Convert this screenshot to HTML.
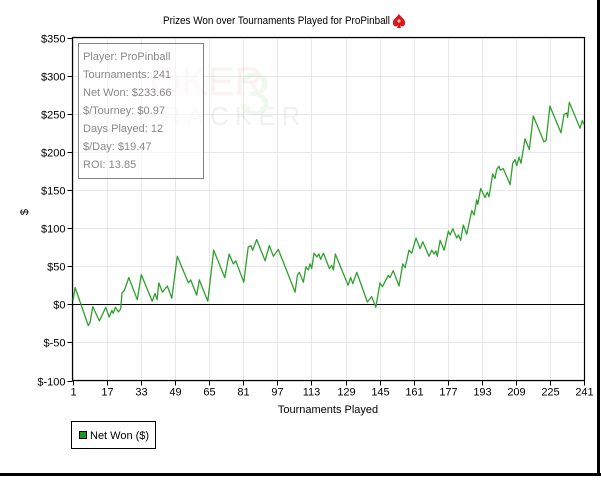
<!DOCTYPE html>
<html><head><meta charset="utf-8"><style>
body{margin:0;background:#fff;width:601px;height:476px;overflow:hidden;font-family:"Liberation Sans",Tahoma,sans-serif;}
svg text{font-family:"Liberation Sans",Tahoma,sans-serif;}
</style></head><body>
<svg id="chart" width="601" height="476" xmlns="http://www.w3.org/2000/svg">
<rect x="0" y="0" width="601" height="476" fill="#fff"/>
<text x="163" y="24" font-size="11" textLength="227" lengthAdjust="spacingAndGlyphs" fill="#000">Prizes Won over Tournaments Played for ProPinball</text>
<g transform="translate(399,21)">
<path d="M0,-7 C3,-3 7,-1 6,3 C5,6 2,6 1,4 L2,7 L-2,7 L-1,4 C-2,6 -5,6 -6,3 C-7,-1 -3,-3 0,-7 Z" fill="#d81818"/>
<circle cx="0" cy="0" r="1.6" fill="#fbb"/>
</g>
<g id="grid"></g>
<g opacity="0.07">
<text x="150" y="95" font-size="40" font-family="Liberation Serif,serif" fill="#c44">OKER</text>
<text x="162" y="125" font-size="26" font-family="Liberation Serif,serif" fill="#444" letter-spacing="6">RACKER</text>
<text x="238" y="115" font-size="60" font-family="Liberation Serif,serif" fill="#3a3">3</text>
</g>
<g id="axes"></g>
<g id="series"></g>
<g>
<rect x="78.5" y="43.5" width="125" height="135" fill="rgba(255,255,255,0.6)" stroke="#808080" stroke-width="1"/>
<g font-size="11" fill="#888">
<text x="83" y="60">Player: ProPinball</text>
<text x="83" y="78">Tournaments: 241</text>
<text x="83" y="96">Net Won: $233.66</text>
<text x="83" y="114">$/Tourney: $0.97</text>
<text x="83" y="132">Days Played: 12</text>
<text x="83" y="150">$/Day: $19.47</text>
<text x="83" y="168">ROI: 13.85</text>
</g></g>
<text x="28" y="212" font-size="11" text-anchor="middle" transform="rotate(-90 28 212)">$</text>
<text x="328" y="413" font-size="11" text-anchor="middle">Tournaments Played</text>
<g>
<rect x="71.5" y="421.5" width="84" height="27" fill="#fff" stroke="#000"/>
<rect x="79.5" y="431.5" width="7" height="7" fill="#1a9a1a" stroke="#000"/>
<text x="90" y="439" font-size="11">Net Won ($)</text>
</g>
<line x1="598.5" y1="0" x2="598.5" y2="475" stroke="#000" stroke-width="3"/>
<line x1="0" y1="474.5" x2="601" y2="474.5" stroke="#000" stroke-width="3"/>
</svg>
<script>
const xTicks=[1,17,33,49,65,81,97,113,129,145,161,177,193,209,225,241];
const yTicks=[-100,-50,0,50,100,150,200,250,300,350];
const yLabels=["$-100","$-50","$0","$50","$100","$150","$200","$250","$300","$350"];
const tourney=[1,2,8.2,9,10.3,13.4,16.4,18,19.2,19.9,20.9,22.3,23.4,24,25.1,27.2,31.2,33.1,38.2,39.5,40.5,41.3,43,45.3,47.4,50,55.2,56.3,59.1,60.3,64.3,67.1,72.3,74.3,76.3,77.4,81.2,83.3,84.5,85.4,87.3,91.2,93.2,95.1,97.4,105.3,106.4,107.3,109.2,110.4,111.5,112.3,113.1,114.2,115.5,116.5,117.3,118.6,121.4,122.5,123.3,124.2,130.2,131.4,132.4,134.3,139.2,141.3,143.2,145.2,146.3,149.1,149.9,151.4,154.1,155.9,157,158.8,160.1,162.1,164,165.3,168.2,169.5,170.6,171.4,172.1,173.4,175.3,177.3,178.1,179.4,181.2,182,183.1,184.3,185.9,188.3,189.4,190.6,191.1,192.5,194.5,195.6,196.4,198.1,199.2,200,201.1,201.6,203.1,206.3,207.5,208.6,209.4,210.5,211.4,213.3,215.3,217.2,222.2,223.2,225,230.2,231.6,232.9,233.3,234.1,239.1,240.2,241];
const netWon=[5,22,-28,-24,-3,-22,-4,-17,-8,-12,-4,-10,-6,15,18,35,6,39,4,14,6,28,16,24,8,63,28,32,12,32,4,71,35,66,53,57,29,75,77,71,85,57,77,63,72,16,38,42,29,49,45,53,47,67,62,66,59,67,47,51,45,66,25,35,27,42,3,10,-4,28,23,38,35,44,24,53,48,71,67,87,73,82,63,71,66,70,63,84,71,96,91,99,87,91,84,104,92,123,117,137,131,152,140,147,141,171,165,177,181,176,178,157,185,190,182,193,185,217,203,247,213,215,260,225,249,251,245,265,231,241,236];

const L=72.5,R=584.5,T=37.5,B=380.5;
const xs=t=>L+0.5+(t-1)*(R-L-1)/240;
const ys=v=>B-(v+100)*(B-T)/450;
const NS="http://www.w3.org/2000/svg";
function mk(tag,attrs,parent){const e=document.createElementNS(NS,tag);for(const k in attrs)e.setAttribute(k,attrs[k]);parent.appendChild(e);return e;}
const grid=document.getElementById('grid'),axes=document.getElementById('axes'),series=document.getElementById('series');
xTicks.forEach(t=>{const x=Math.round(xs(t))+0.5;
 const g=mk('line',{x1:x,y1:T,x2:x,y2:B,stroke:'#e8e8e8'},grid);
 
 
 mk('line',{x1:x,y1:B,x2:x,y2:B+5,stroke:'#000'},axes);
 const tx=mk('text',{x:x,y:B+15,'font-size':11,'text-anchor':'middle'},axes);tx.textContent=t;
 
 
});
yTicks.forEach((v,i)=>{const y=Math.round(ys(v))+0.5;
 const g=mk('line',{x1:L,y1:y,x2:R,y2:y,stroke:v===0?'#000':'#e8e8e8'},grid);
 
 
 mk('line',{x1:L-5,y1:y,x2:L,y2:y,stroke:'#000'},axes);
 const tx=mk('text',{x:L-7,y:y+4,'font-size':11,'text-anchor':'end'},axes);tx.textContent=yLabels[i];
 
 
});
const fr=mk('rect',{x:L,y:T,width:R-L,height:B-T,fill:'none',stroke:'#000','stroke-width':1.2},axes);


const pts=tourney.map((t,i)=>xs(t).toFixed(1)+','+ys(netWon[i]).toFixed(1)).join(' ');
const pl=mk('polyline',{points:pts,fill:'none',stroke:'#2ea02e','stroke-width':1.3,'stroke-linejoin':'round'},series);


</script>
</body></html>
